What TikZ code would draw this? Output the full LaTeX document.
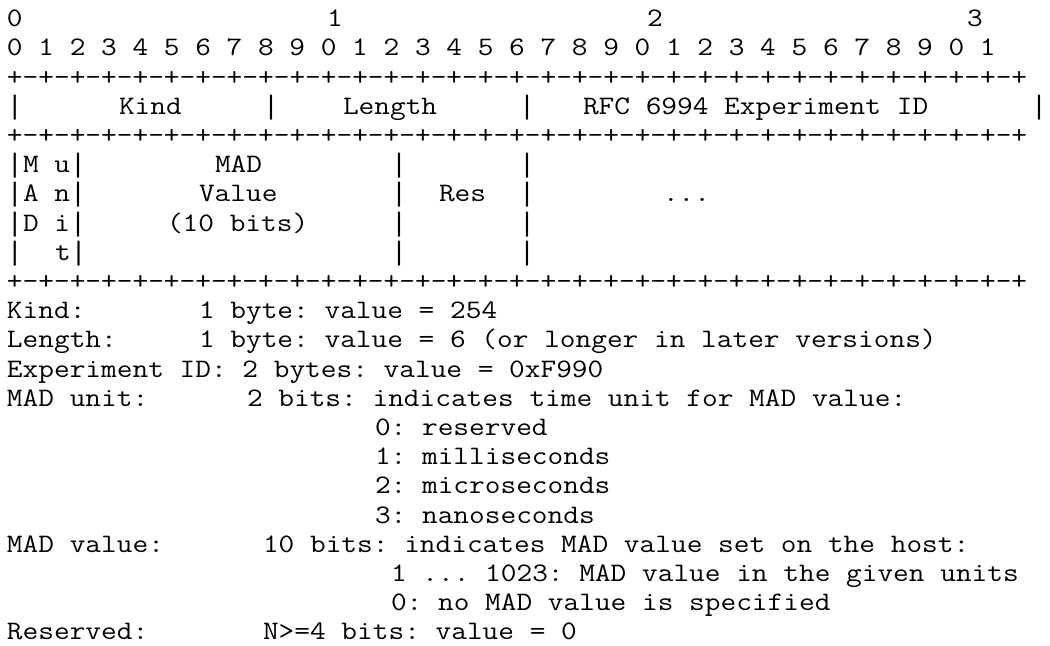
\documentclass[tikz,border=0pt]{standalone}
\usepackage{fontspec}
% slab-serif typewriter face, widened to a 12pt character cell at 20pt
\newfontfamily\pktmono[FakeStretch=1.142857]{Latin Modern Mono}
% full-height vertical bar glyph, same 12pt cell
\newfontfamily\barmono{Liberation Mono}
\newcommand\vb{{\barmono|}}

% fixed character grid: 12pt per column, 21.9pt per line
\newcommand\colw{12pt}
\newcommand\lineh{21.9pt}
\newcommand\xorig{5.25pt}
\newcommand\yorig{20pt}
% place a text run: name, row (1-based), column (0-based), text
\newcommand\seg[5][]{%
  \node[cell,#1] (#2) at ({\xorig+#4*\colw},{-(\yorig+(#3-1)*\lineh)}) {#5};}
\newcommand\bitrule{+-+-+-+-+-+-+-+-+-+-+-+-+-+-+-+-+-+-+-+-+-+-+-+-+-+-+-+-+-+-+-+-+}

\begin{document}
\begin{tikzpicture}[
  cell/.style={anchor=base west, inner sep=0pt, outer sep=0pt,
    font=\pktmono\fontsize{20pt}{22pt}\selectfont\frenchspacing, text=black},
  lastrow/.style={text depth=0pt}]
\useasboundingbox[fill=white] (0,0) rectangle (787.5pt,-484.5pt);

% bit numbering
\seg{tensA}{1}{0}{0}
\seg{tensB}{1}{20}{1}
\seg{tensC}{1}{40}{2}
\seg{tensD}{1}{60}{3}
\seg{units}{2}{0}{0 1 2 3 4 5 6 7 8 9 0 1 2 3 4 5 6 7 8 9 0 1 2 3 4 5 6 7 8 9 0 1}

% first word
\seg{ruleA}{3}{0}{\bitrule}
\seg{barA0}{4}{0}{\vb}
\seg{kind}{4}{7}{Kind}
\seg{barA1}{4}{16}{\vb}
\seg{length}{4}{21}{Length}
\seg{barA2}{4}{32}{\vb}
\seg{expid}{4}{36}{RFC 6994 Experiment ID}
\seg{barA3}{4}{64}{\vb}
\seg{ruleB}{5}{0}{\bitrule}

% second word
\seg{unitA}{6}{0}{\vb M u\vb}
\seg{madA}{6}{13}{MAD}
\seg{barB1}{6}{24}{\vb}
\seg{barB2}{6}{32}{\vb}
\seg{unitB}{7}{0}{\vb A n\vb}
\seg{madB}{7}{12}{Value}
\seg{barC1}{7}{24}{\vb}
\seg{res}{7}{27}{Res}
\seg{barC2}{7}{32}{\vb}
\seg{more}{7}{41}{...}
\seg{unitC}{8}{0}{\vb D i\vb}
\seg{madC}{8}{10}{(10 bits)}
\seg{barD1}{8}{24}{\vb}
\seg{barD2}{8}{32}{\vb}
\seg{unitD0}{9}{0}{\vb}
\seg{unitD}{9}{3}{t\vb}
\seg{barE1}{9}{24}{\vb}
\seg{barE2}{9}{32}{\vb}
\seg{ruleC}{10}{0}{\bitrule}

% field descriptions
\seg{dKind}{11}{0}{Kind:}
\seg{vKind}{11}{12}{1 byte: value = 254}
\seg{dLen}{12}{0}{Length:}
\seg{vLen}{12}{12}{1 byte: value = 6 (or longer in later versions)}
\seg{dExp}{13}{0}{Experiment ID: 2 bytes: value = 0xF990}
\seg{dUnit}{14}{0}{MAD unit:}
\seg{vUnit}{14}{15}{2 bits: indicates time unit for MAD value:}
\seg{uZero}{15}{23}{0: reserved}
\seg{uOne}{16}{23}{1: milliseconds}
\seg{uTwo}{17}{23}{2: microseconds}
\seg{uThree}{18}{23}{3: nanoseconds}
\seg{dVal}{19}{0}{MAD value:}
\seg{vVal}{19}{16}{10 bits: indicates MAD value set on the host:}
\seg{vRange}{20}{24}{1 ... 1023: MAD value in the given units}
\seg{vNone}{21}{24}{0: no MAD value is specified}
\seg[lastrow]{dRes}{22}{0}{Reserved:}
\seg[lastrow]{vRes}{22}{16}{N>=4 bits: value = 0}
\end{tikzpicture}
\end{document}
